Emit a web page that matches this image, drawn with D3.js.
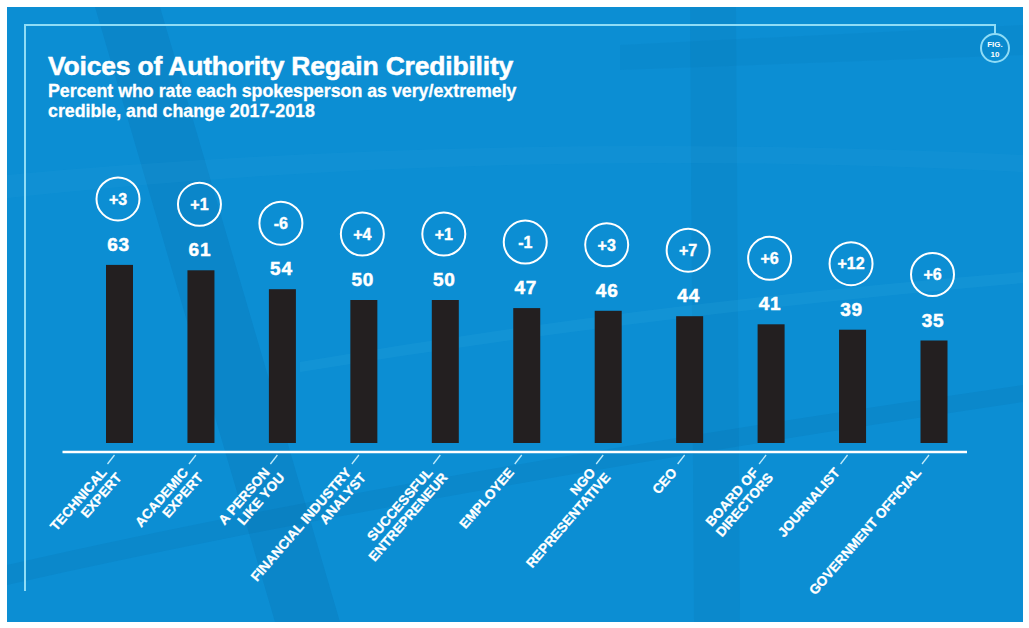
<!DOCTYPE html>
<html>
<head>
<meta charset="utf-8">
<script src="https://cdn.jsdelivr.net/npm/d3@7/dist/d3.min.js"></script>
<style>
  html, body { margin: 0; padding: 0; background: #fff; }
  svg { display: block; }
  text { font-family: "Liberation Sans", Arial, Helvetica, sans-serif; font-weight: bold; fill: #fff; }
  .heavy { stroke: #fff; stroke-width: 0.5px; }
</style>
</head>
<body>
<svg id="chart" width="1029" height="628"></svg>
<script>
// data
var categories = [
  ["TECHNICAL", "EXPERT"],
  ["ACADEMIC", "EXPERT"],
  ["A PERSON", "LIKE YOU"],
  ["FINANCIAL INDUSTRY", "ANALYST"],
  ["SUCCESSFUL", "ENTREPRENEUR"],
  ["EMPLOYEE"],
  ["NGO", "REPRESENTATIVE"],
  ["CEO"],
  ["BOARD OF", "DIRECTORS"],
  ["JOURNALIST"],
  ["GOVERNMENT OFFICIAL"]
];
var credibility = [63, 61, 54, 50, 50, 47, 46, 44, 41, 39, 35];
var change = [3, 1, -6, 4, 1, -1, 3, 7, 6, 12, 6];

var titleText = "Voices of Authority Regain Credibility";
var subtitleLines = ["Percent who rate each spokesperson as very/extremely", "credible, and change 2017-2018"];

var svg = d3.select("svg#chart");
var width = +svg.attr("width");
var height = +svg.attr("height");

var blue = "#0c8ed3";
var frameColor = "#8fdcf6";
var barColor = "#231f20";

// background panel
svg.append("rect")
  .attr("x", 7).attr("y", 7)
  .attr("width", width - 13).attr("height", height - 13)
  .attr("fill", blue);

// soft photo-like texture
var tex = svg.append("g").attr("id", "texture");
tex.append("path")
  .attr("d", "M95,7 L160,7 L340,622 L275,622 Z")
  .attr("fill", "#05588c").attr("opacity", 0.14);
tex.append("path")
  .attr("d", "M690,7 L736,7 L740,622 L694,622 Z")
  .attr("fill", "#056fab").attr("opacity", 0.15);
tex.append("path")
  .attr("d", "M7,175 Q500,130 1023,155 L1023,172 Q500,145 7,198 Z")
  .attr("fill", "#43b4ea").attr("opacity", 0.08);
tex.append("path")
  .attr("d", "M7,565 Q400,475 1023,385 L1023,402 Q420,492 7,585 Z")
  .attr("fill", "#04609a").attr("opacity", 0.14);
tex.append("path")
  .attr("d", "M300,362 Q650,302 1023,272 L1023,283 Q650,315 300,372 Z")
  .attr("fill", "#4cc0f0").attr("opacity", 0.1);
tex.append("path")
  .attr("d", "M620,45 L1023,25 L1023,55 L620,70 Z")
  .attr("fill", "#046aa6").attr("opacity", 0.1);

// frame line + fig badge
var frame = svg.append("g").attr("id", "frame");
frame.append("path")
  .attr("d", "M25,591 L25,25 L995,25 L995,34")
  .attr("fill", "none")
  .attr("stroke", frameColor)
  .attr("stroke-width", 2);
frame.append("circle")
  .attr("cx", 995).attr("cy", 48).attr("r", 14)
  .attr("fill", "none")
  .attr("stroke", frameColor)
  .attr("stroke-width", 2);
frame.append("text")
  .attr("x", 995).attr("y", 47)
  .attr("text-anchor", "middle")
  .style("font-size", "8px")
  .text("FIG.");
frame.append("text")
  .attr("x", 995).attr("y", 57)
  .attr("text-anchor", "middle")
  .style("font-size", "8px")
  .text("10");

// titles
svg.append("text")
  .attr("class", "heavy")
  .attr("x", 48).attr("y", 75)
  .style("font-size", "26.5px")
  .style("letter-spacing", "-0.2px")
  .text(titleText);

svg.append("g").selectAll("text")
  .data(subtitleLines)
  .enter().append("text")
    .attr("class", "heavy")
    .attr("x", 48)
    .attr("y", function(d, i) { return 97 + i * 20; })
    .style("font-size", "17.8px")
    .style("stroke-width", "0.3px")
    .text(function(d) { return d; });

// scales
var x = d3.scalePoint()
  .domain(d3.range(categories.length))
  .range([119.5, 934]);

var y = d3.scaleLinear()
  .domain([0, 100])
  .range([435, 165]);

var barWidth = 27;
var baseY = 443;
var axisY = 452;

var plot = svg.append("g").attr("id", "plot");

// bars
plot.selectAll("rect.bar")
  .data(credibility)
  .enter().append("rect")
    .attr("class", "bar")
    .attr("x", function(d, i) { return x(i) - barWidth / 2; })
    .attr("y", function(d) { return y(d); })
    .attr("width", barWidth)
    .attr("height", function(d) { return baseY - y(d); })
    .attr("fill", barColor);

// value labels
plot.selectAll("text.value")
  .data(credibility)
  .enter().append("text")
    .attr("class", "value heavy")
    .attr("x", function(d, i) { return x(i) - 1; })
    .attr("y", function(d) { return y(d) - 14; })
    .attr("text-anchor", "middle")
    .style("font-size", "19px")
    .style("letter-spacing", "0.8px")
    .text(function(d) { return d; });

// change badges
var badge = plot.selectAll("g.badge")
  .data(change)
  .enter().append("g")
    .attr("class", "badge")
    .attr("transform", function(d, i) {
      return "translate(" + (x(i) - 1.5) + "," + (y(credibility[i]) - 66) + ")";
    });

badge.append("circle")
  .attr("r", 21.5)
  .attr("fill", "none")
  .attr("stroke", "#fff")
  .attr("stroke-width", 2);

badge.append("text")
  .attr("class", "heavy")
  .attr("text-anchor", "middle")
  .attr("dy", "0.36em")
  .style("font-size", "16px")
  .style("stroke-width", "0.4px")
  .text(function(d) { return (d > 0 ? "+" : "-") + Math.abs(d); });

// axis line
plot.append("line")
  .attr("x1", x(0) - 57).attr("x2", x(categories.length - 1) + 33)
  .attr("y1", axisY).attr("y2", axisY)
  .attr("stroke", "#fff")
  .attr("stroke-width", 2.5);

// diagonal ticks
plot.selectAll("line.tick")
  .data(categories)
  .enter().append("line")
    .attr("class", "tick")
    .attr("x1", function(d, i) { return x(i) - 5; })
    .attr("y1", axisY + 3)
    .attr("x2", function(d, i) { return x(i) - 12; })
    .attr("y2", axisY + 12)
    .attr("stroke", "#bfeafb")
    .attr("stroke-width", 1.3);

// rotated category labels
var labels = plot.selectAll("text.cat")
  .data(categories)
  .enter().append("text")
    .attr("class", "cat heavy")
    .attr("text-anchor", "end")
    .attr("transform", function(d, i) {
      return "translate(" + (x(i) - 12) + "," + (axisY + 21) + ") rotate(-49)";
    })
    .style("font-size", "13.5px")
    .style("stroke-width", "0.3px");

labels.selectAll("tspan")
  .data(function(d) { return d; })
  .enter().append("tspan")
    .attr("x", function(d, i) { return i * 6; })
    .attr("y", function(d, i) { return i * 14.5; })
    .text(function(d) { return d; });
</script>
</body>
</html>
